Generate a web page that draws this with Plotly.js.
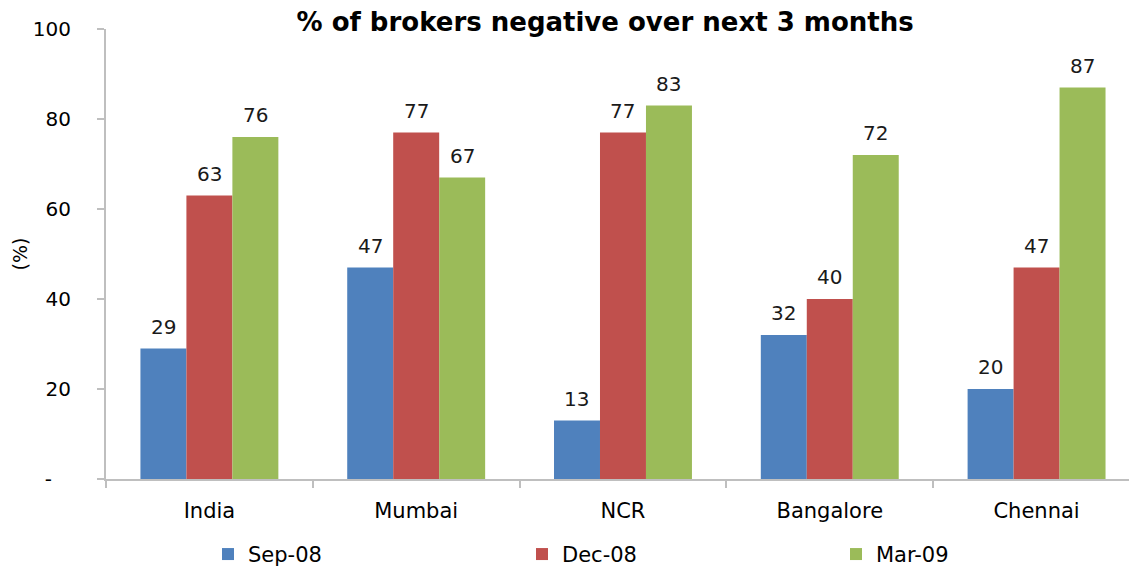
<!DOCTYPE html>
<html>
<head>
<meta charset="utf-8">
<script src="https://cdn.plot.ly/plotly-3.0.1.min.js"></script>
<style>html,body{margin:0;padding:0;background:#fff;}#chart{width:1129px;height:568px;}</style>
</head>
<body>
<div id="chart"></div>
<script>
const categories = ["India", "Mumbai", "NCR", "Bangalore", "Chennai"];
const seriesNames = ["Sep-08", "Dec-08", "Mar-09"];
const sep08 = [29, 47, 13, 32, 20];
const dec08 = [63, 77, 77, 40, 47];
const mar09 = [76, 67, 83, 72, 87];
const colors = ["#4F81BD", "#C0504D", "#9BBB59"];
const yTickVals = [0, 20, 40, 60, 80, 100];
const yTickText = ["-\u00A0\u00A0\u00A0", "20", "40", "60", "80", "100"];

const font = "DejaVu Sans, Verdana, sans-serif";
const values = [sep08, dec08, mar09];
const traces = values.map((v, i) => ({
  type: "bar",
  name: seriesNames[i],
  x: categories,
  y: v,
  marker: {color: colors[i]},
  hoverinfo: "none"
}));

const barPx = 46;
const annotations = [];
values.forEach((v, i) => {
  v.forEach((val, j) => {
    annotations.push({
      x: categories[j], y: val, xref: "x", yref: "y",
      text: String(val), showarrow: false,
      xanchor: "center", yanchor: "bottom",
      xshift: (i - 1) * barPx, yshift: 8,
      font: {family: font, size: 20, color: "#1a1a1a"}
    });
  });
});

const layout = {
  width: 1129, height: 568,
  margin: {l: 106, r: 0, t: 29, b: 89, autoexpand: false},
  paper_bgcolor: "#fff", plot_bgcolor: "#fff",
  barmode: "group",
  bargap: 0.333,
  bargroupgap: 0,
  annotations: annotations,
  title: {text: "<b>% of brokers negative over next 3 months</b>", font: {family: font, size: 26, color: "#000"},
          xref: "container", x: 0.536, xanchor: "center", yref: "container", y: 0.961, yanchor: "middle"},
  xaxis: {
    range: [-0.5, 4.447],
    showline: true, linecolor: "#BFBFBF", linewidth: 2,
    ticks: "outside", tickson: "boundaries", ticklen: 7, tickcolor: "#BFBFBF", tickwidth: 2,
    ticklabelstandoff: 12,
    tickfont: {family: font, size: 21, color: "#000"},
    showgrid: false
  },
  yaxis: {
    range: [0, 100],
    tickvals: yTickVals, ticktext: yTickText,
    showline: true, linecolor: "#BFBFBF", linewidth: 2,
    ticks: "outside", ticklen: 7, tickcolor: "#BFBFBF", tickwidth: 2,
    ticklabelstandoff: 22,
    tickfont: {family: font, size: 20, color: "#000"},
    showgrid: false, zeroline: false,
    title: {text: "(%)", font: {family: font, size: 19, color: "#000"}, standoff: 0}
  },
  showlegend: true,
  legend: {
    orientation: "h", x: 0.0997, xanchor: "left", y: -0.122, yanchor: "top",
    entrywidth: 269, entrywidthmode: "pixels",
    font: {family: font, size: 21, color: "#000"},
    itemwidth: 30, tracegroupgap: 0
  }
};
Plotly.newPlot("chart", traces, layout, {displayModeBar: false, staticPlot: true});
</script>
</body>
</html>
